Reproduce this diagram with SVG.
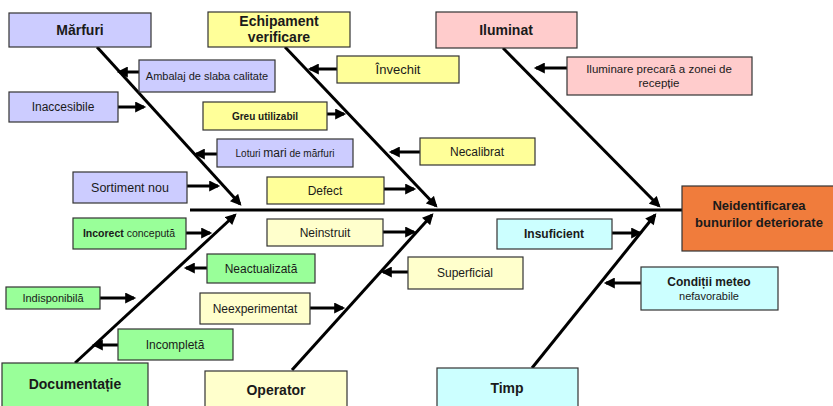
<svg xmlns="http://www.w3.org/2000/svg" width="833" height="406" viewBox="0 0 833 406">
<style>
text{font-family:"Liberation Sans",Arial,sans-serif;fill:#1a1a1a;text-anchor:middle}
.cat{font-size:14px;font-weight:bold}
.lbl{font-size:12px}
.box{stroke:#333;stroke-width:1.2}
.lav{fill:#ccccff}.yel{fill:#ffff99}.pink{fill:#ffcccc}.ly{fill:#ffffcc}.grn{fill:#99ff99}.cyan{fill:#ccffff}
.bone{stroke:#000;stroke-width:3;fill:none}
.arr{stroke:#000;stroke-width:3;fill:none;marker-end:url(#ah)}
</style>
<defs>
<marker id="ah" viewBox="0 0 10 10" refX="8" refY="5" markerWidth="12" markerHeight="11" markerUnits="userSpaceOnUse" orient="auto"><path d="M0,0 L10,5 L0,10 z" fill="#000"/></marker>
</defs>
<rect width="833" height="406" fill="#fff"/>
<g id="connectors">
<line class="bone" x1="190" y1="210" x2="684" y2="210"/>
<line class="arr" x1="97" y1="47" x2="240" y2="204"/>
<line class="arr" x1="285" y1="47" x2="436" y2="206"/>
<line class="arr" x1="503" y1="48" x2="659" y2="206"/>
<line class="arr" x1="75" y1="363" x2="235" y2="215"/>
<line class="arr" x1="292" y1="370" x2="432" y2="215"/>
<line class="arr" x1="532" y1="368" x2="655" y2="215"/>
<line class="arr" x1="139" y1="72" x2="119" y2="72"/>
<line class="arr" x1="118" y1="107" x2="144" y2="107"/>
<line class="arr" x1="337" y1="69" x2="310" y2="69"/>
<line class="arr" x1="567" y1="68" x2="536" y2="68"/>
<line class="arr" x1="327" y1="114" x2="344" y2="114"/>
<line class="arr" x1="217" y1="154" x2="196" y2="154"/>
<line class="arr" x1="420" y1="152" x2="391" y2="152"/>
<line class="arr" x1="187" y1="186" x2="218" y2="186"/>
<line class="arr" x1="384" y1="189" x2="414" y2="189"/>
<line class="arr" x1="186" y1="233" x2="210" y2="233"/>
<line class="arr" x1="383" y1="232" x2="414" y2="232"/>
<line class="arr" x1="612" y1="233" x2="640" y2="233"/>
<line class="arr" x1="207" y1="268" x2="186" y2="268"/>
<line class="arr" x1="408" y1="272" x2="383" y2="272"/>
<line class="arr" x1="641" y1="283" x2="606" y2="283"/>
<line class="arr" x1="100" y1="298" x2="134" y2="298"/>
<line class="arr" x1="310" y1="308" x2="343" y2="308"/>
<line class="arr" x1="118" y1="345" x2="94" y2="345"/>
</g>
<g id="head"><rect class="box" x="682" y="186" width="160" height="65" fill="#f07c3c"/><text x="759" y="210" style="font-size:13px;font-weight:bold">Neidentificarea</text><text x="759" y="227" style="font-size:13px;font-weight:bold">bunurilor deteriorate</text></g>
<g id="marfuri"><rect class="box lav" x="9" y="13" width="142" height="34"/><text class="cat" x="80" y="35">Mărfuri</text></g>
<g id="echipament"><rect class="box yel" x="208" y="12" width="142" height="35"/><text class="cat" x="279" y="26">Echipament</text><text class="cat" x="279" y="42">verificare</text></g>
<g id="iluminat"><rect class="box pink" x="436" y="12" width="141" height="36"/><text class="cat" x="506" y="35">Iluminat</text></g>
<g id="documentatie"><rect class="box grn" x="2" y="363" width="146" height="44"/><text class="cat" x="75" y="389">Documentație</text></g>
<g id="operator"><rect class="box ly" x="205" y="371" width="142" height="36"/><text class="cat" x="276" y="395">Operator</text></g>
<g id="timp"><rect class="box cyan" x="437" y="368" width="141" height="39"/><text class="cat" x="507" y="393">Timp</text></g>
<g id="ambalaj"><rect class="box lav" x="139" y="60" width="136" height="32"/><text x="207" y="80" style="font-size:11px">Ambalaj de slaba calitate</text></g>
<g id="inaccesibile"><rect class="box lav" x="9" y="92" width="109" height="30"/><text class="lbl" x="63" y="111">Inaccesibile</text></g>
<g id="invechit"><rect class="box yel" x="337" y="56" width="122" height="27"/><text x="398" y="74" style="font-size:13px">Învechit</text></g>
<g id="greu"><rect class="box yel" x="203" y="102" width="124" height="28"/><text x="265" y="120" style="font-size:10px;font-weight:bold">Greu utilizabil</text></g>
<g id="loturi"><rect class="box lav" x="217" y="139" width="136" height="28"/><text x="285" y="157" style="font-size:10px">Loturi <tspan style="font-size:12px">mari</tspan> de mărfuri</text></g>
<g id="necalibrat"><rect class="box yel" x="420" y="138" width="115" height="27"/><text class="lbl" x="477" y="156">Necalibrat</text></g>
<g id="sortiment"><rect class="box lav" x="73" y="172" width="114" height="31"/><text x="130" y="192" style="font-size:12.5px">Sortiment nou</text></g>
<g id="defect"><rect class="box yel" x="267" y="177" width="117" height="27"/><text class="lbl" x="325" y="195">Defect</text></g>
<g id="incorect"><rect class="box grn" x="73" y="218" width="113" height="31"/><text x="129" y="237" style="font-size:10.5px"><tspan font-weight="bold">Incorect</tspan> concepută</text></g>
<g id="neinstruit"><rect class="box ly" x="267" y="219" width="116" height="27"/><text class="lbl" x="325" y="237">Neinstruit</text></g>
<g id="insuficient"><rect class="box cyan" x="497" y="219" width="115" height="30"/><text x="554" y="238" style="font-size:12px;font-weight:bold">Insuficient</text></g>
<g id="neactualizata"><rect class="box grn" x="207" y="254" width="108" height="29"/><text class="lbl" x="261" y="273">Neactualizată</text></g>
<g id="superficial"><rect class="box ly" x="408" y="257" width="115" height="32"/><text class="lbl" x="465" y="277">Superficial</text></g>
<g id="iluminare"><rect class="box pink" x="567" y="57" width="185" height="38"/><text x="659" y="73" style="font-size:11.5px">Iluminare precară a zonei de</text><text x="659" y="87" style="font-size:11.5px">recepție</text></g>
<g id="conditii"><rect class="box cyan" x="641" y="267" width="137" height="43"/><text x="709" y="286" style="font-size:12px;font-weight:bold">Condiții meteo</text><text x="709" y="300" style="font-size:11px">nefavorabile</text></g>
<g id="indisponibila"><rect class="box grn" x="6" y="287" width="94" height="22"/><text x="53" y="302" style="font-size:11px">Indisponibilă</text></g>
<g id="neexperimentat"><rect class="box ly" x="200" y="293" width="110" height="31"/><text x="255" y="313" style="font-size:12px">Neexperimentat</text></g>
<g id="incompleta"><rect class="box grn" x="118" y="329" width="115" height="31"/><text class="lbl" x="175" y="349">Incompletă</text></g>
</svg>
